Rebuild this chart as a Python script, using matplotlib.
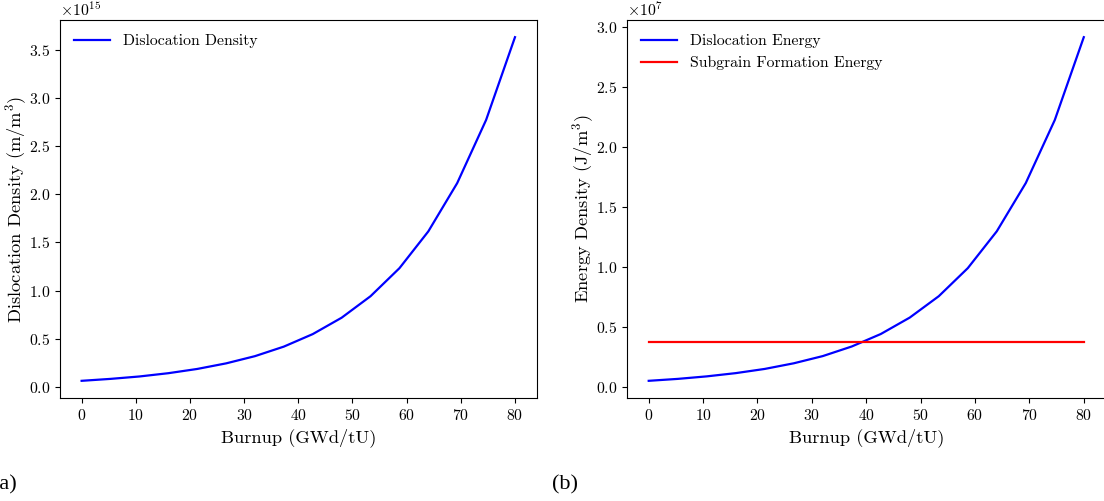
import matplotlib
matplotlib.use('Agg')
import matplotlib.pyplot as plt

plt.rcParams['font.family'] = 'serif'
plt.rcParams['font.serif'] = ['cmr10']
plt.rcParams['mathtext.fontset'] = 'cm'
plt.rcParams['axes.formatter.use_mathtext'] = True
plt.rcParams['axes.unicode_minus'] = False

# burnup steps (GWd/tU)
burnup = [0, 5.33, 10.67, 16.0, 21.33, 26.67, 32.0, 37.33,
          42.67, 48.0, 53.33, 58.67, 64.0, 69.33, 74.67, 80.0]
# dislocation density, m/m^3
density = [0.063e15, 0.083e15, 0.108e15, 0.142e15, 0.186e15, 0.244e15,
           0.319e15, 0.418e15, 0.548e15, 0.718e15, 0.941e15, 1.232e15,
           1.614e15, 2.115e15, 2.771e15, 3.630e15]
# stored dislocation energy, J/m^3
energy = [0.050e7, 0.066e7, 0.087e7, 0.114e7, 0.149e7, 0.196e7,
          0.256e7, 0.336e7, 0.440e7, 0.577e7, 0.755e7, 0.989e7,
          1.296e7, 1.698e7, 2.224e7, 2.914e7]
subgrain_energy = 0.375e7

tick_fs = 11.3
label_fs = 13.3

fig = plt.figure(figsize=(11.04, 5.01), dpi=100)
ax1 = fig.add_axes([0.0543, 0.2056, 0.4318, 0.7545])
ax2 = fig.add_axes([0.5679, 0.2056, 0.4335, 0.7545])

ax1.plot(burnup, density, color='blue', lw=1.6, label='Dislocation Density')
ax1.set_xlabel('Burnup (GWd/tU)', fontsize=label_fs)
ax1.set_ylabel('Dislocation Density (m/m$^3$)', fontsize=label_fs, labelpad=0)
ax1.legend(loc='upper left', frameon=False, fontsize=tick_fs, handlelength=2.3)

ax2.plot(burnup, energy, color='blue', lw=1.6, label='Dislocation Energy')
ax2.plot(burnup, [subgrain_energy] * len(burnup), color='red', lw=1.6,
         label='Subgrain Formation Energy')
ax2.set_xlabel('Burnup (GWd/tU)', fontsize=label_fs)
ax2.set_ylabel('Energy Density (J/m$^3$)', fontsize=label_fs, labelpad=0)
ax2.legend(loc='upper left', frameon=False, fontsize=tick_fs, handlelength=2.3)

for ax in (ax1, ax2):
    ax.tick_params(labelsize=tick_fs)
    ax.yaxis.get_offset_text().set_fontsize(tick_fs)
    ax.set_xticks([0, 10, 20, 30, 40, 50, 60, 70, 80])

fig.text(-0.007, 0.022, '(a)', fontsize=16, family='Liberation Serif')
fig.text(0.5, 0.022, '(b)', fontsize=16, family='Liberation Serif')

fig.savefig('out.png', dpi=100)
